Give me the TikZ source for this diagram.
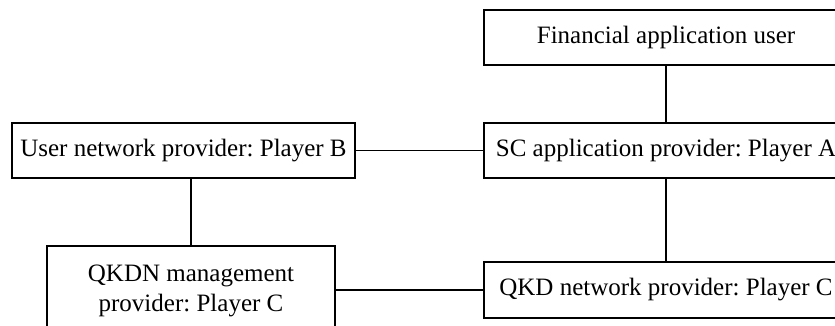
\documentclass[tikz,border=0pt]{standalone}
\usepackage{fontspec}
\setmainfont{Liberation Serif}
\begin{document}
\frenchspacing
\begin{tikzpicture}[x=1pt,y=1pt,
  box/.style={draw, line width=1.2pt, inner sep=0pt, align=center,
    font=\fontsize{25}{30}\selectfont\frenchspacing},
  link/.style={line width=1.2pt}]
\useasboundingbox (0,0) rectangle (835,-325);
\clip (0,0) rectangle (835,-325);
% boxes
\node[box, minimum width=364, minimum height=55] (fin)  at (666,-37.5)  {Financial application user};
\node[box, minimum width=364, minimum height=55] (sc)   at (666,-150.5) {SC application provider: Player A};
\node[box, minimum width=343, minimum height=55] (user) at (183.5,-150.5) {User network provider: Player B};
\node[box, minimum width=288, minimum height=90] (qkdn) at (191,-291) {QKDN management\\provider: Player C};
\node[box, minimum width=364, minimum height=56] (qkd)  at (666,-290) {QKD network provider: Player C};
% connectors
\draw[link] (fin.south) -- (sc.north);
\draw[link] (user.east) -- (sc.west);
\draw[link] (user.south -| qkdn.north) -- (qkdn.north);
\draw[link] (sc.south) -- (qkd.north);
\draw[link] (qkdn.east |- qkd.west) -- (qkd.west);
\end{tikzpicture}
\end{document}
